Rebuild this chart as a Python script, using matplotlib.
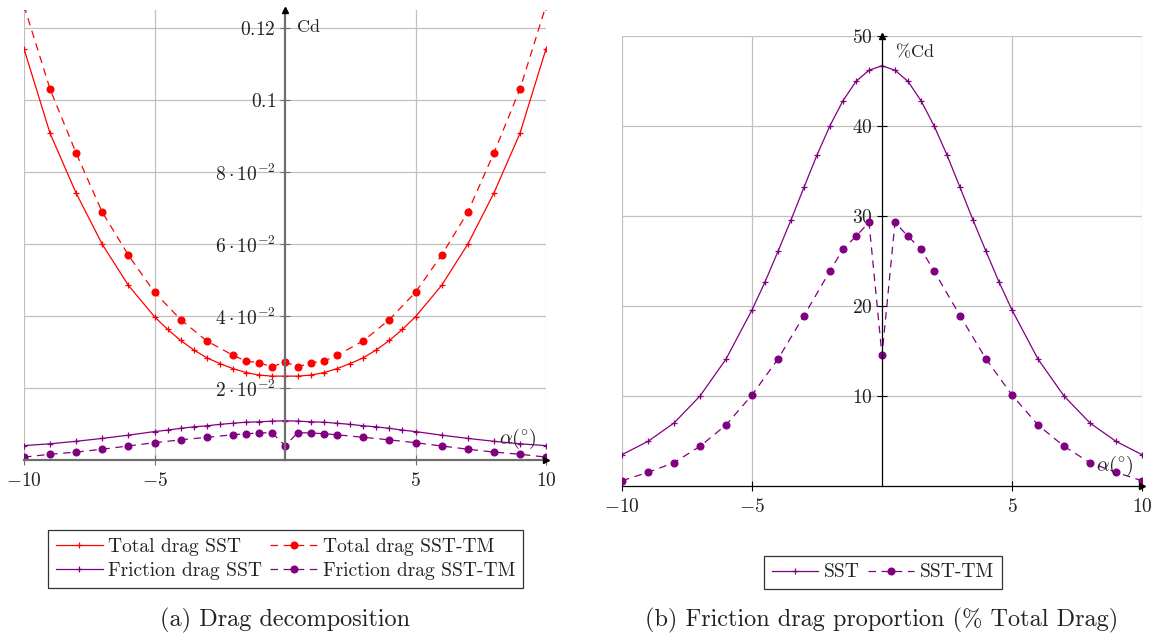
import matplotlib
matplotlib.use("Agg")
import matplotlib.pyplot as plt

plt.rcParams['font.family'] = ['cmr10', 'DejaVu Serif']
plt.rcParams['mathtext.fontset'] = 'cm'
plt.rcParams['axes.unicode_minus'] = False

RED = '#ff0000'
PURPLE = '#800080'

# ---------------- data (a) ----------------
alpha_sst = [-10, -9, -8, -7, -6, -5, -4.5, -4, -3.5, -3, -2.5, -2, -1.5, -1, -0.5,
             0, 0.5, 1, 1.5, 2, 2.5, 3, 3.5, 4, 4.5, 5, 6, 7, 8, 9, 10]
alpha_tm = [-10, -9, -8, -7, -6, -5, -4, -3, -2, -1.5, -1, -0.5,
            0, 0.5, 1, 1.5, 2, 3, 4, 5, 6, 7, 8, 9, 10]

total_sst = [0.1142, 0.0907, 0.0741, 0.0599, 0.0485, 0.0398, 0.0363, 0.0332, 0.0306,
             0.0284, 0.0268, 0.0254, 0.0243, 0.0236, 0.0233,
             0.0233,
             0.0233, 0.0236, 0.0243, 0.0254, 0.0268, 0.0284, 0.0306, 0.0332, 0.0363,
             0.0398, 0.0485, 0.0599, 0.0741, 0.0907, 0.1142]
total_tm = [0.1262, 0.1030, 0.0852, 0.0688, 0.0569, 0.0466, 0.0390, 0.0331, 0.0291,
            0.0275, 0.0270, 0.0259,
            0.0272,
            0.0259, 0.0270, 0.0275, 0.0291, 0.0331, 0.0390, 0.0466, 0.0569, 0.0688,
            0.0852, 0.1030, 0.1262]
friction_sst = [0.0040, 0.0045, 0.0052, 0.0060, 0.0069, 0.0079, 0.0083, 0.0088, 0.0092,
                0.0095, 0.0099, 0.0102, 0.0105, 0.0106, 0.0108,
                0.0109,
                0.0108, 0.0106, 0.0105, 0.0102, 0.0099, 0.0095, 0.0092, 0.0088, 0.0083,
                0.0079, 0.0069, 0.0060, 0.0052, 0.0045, 0.0040]
friction_tm = [0.0008, 0.0016, 0.0022, 0.0030, 0.0039, 0.0048, 0.0056, 0.0063, 0.0070,
               0.0073, 0.0075, 0.0076,
               0.0040,
               0.0076, 0.0075, 0.0073, 0.0070, 0.0063, 0.0056, 0.0048, 0.0039, 0.0030,
               0.0022, 0.0016, 0.0008]

# ---------------- data (b) ----------------
pct_sst = [3.48, 4.96, 7.0, 10.0, 14.1, 19.56, 22.67, 26.07, 29.56, 33.19, 36.78,
           40.04, 42.81, 44.96, 46.19,
           46.7,
           46.19, 44.96, 42.81, 40.04, 36.78, 33.19, 29.56, 26.07, 22.67, 19.56,
           14.1, 10.0, 7.0, 4.96, 3.48]
pct_tm = [0.59, 1.52, 2.59, 4.41, 6.78, 10.11, 14.11, 18.93, 23.89, 26.33, 27.74, 29.30,
          14.52,
          29.30, 27.74, 26.33, 23.89, 18.93, 14.11, 10.11, 6.78, 4.41, 2.59, 1.52, 0.59]

xticks = [-10, -5, 5, 10]
xticklabels = [r'$-10$', r'$-5$', r'$5$', r'$10$']
yticks_a = [0.02, 0.04, 0.06, 0.08, 0.1, 0.12]
yticklabels_a = [r'$2\cdot10^{-2}$', r'$4\cdot10^{-2}$', r'$6\cdot10^{-2}$',
                 r'$8\cdot10^{-2}$', r'$0.1$', r'$0.12$']
yticks_b = [10, 20, 30, 40, 50]
yticklabels_b = [r'$10$', r'$20$', r'$30$', r'$40$', r'$50$']

W, H = 1157, 639
fig = plt.figure(figsize=(W / 100, H / 100), dpi=100)

TICKFS = 14
LW = 0.9
MS_DOT = 4.8
MS_PLUS = 5
DASH = (0, (6, 4.5))
TXT = '#222222'


def setup_axes(ax, axcolor, axlw):
    ax.spines['left'].set_position(('data', 0))
    ax.spines['bottom'].set_position(('data', 0))
    ax.spines['top'].set_visible(False)
    ax.spines['right'].set_visible(False)
    for s in ('left', 'bottom'):
        ax.spines[s].set_color(axcolor)
        ax.spines[s].set_linewidth(axlw)
        ax.spines[s].set_zorder(5)
    ax.tick_params(axis='both', direction='inout', length=7, width=0.8,
                   colors=axcolor, labelcolor=TXT, labelsize=TICKFS)
    ax.tick_params(axis='y', pad=3)
    ax.tick_params(axis='x', pad=5)
    ax.grid(True, color='#c0c0c0', linewidth=0.9)
    ax.set_axisbelow(True)
    # arrow heads
    ax.plot(1, 0, marker='>', color='black', markersize=5,
            transform=ax.get_yaxis_transform(), clip_on=False, zorder=6)
    ax.plot(0, 1, marker='^', color='black', markersize=5,
            transform=ax.get_xaxis_transform(), clip_on=False, zorder=6)


# ---------------- panel (a) ----------------
axa = fig.add_axes([24 / W, 1 - 460 / H, 522 / W, 450 / H])
axa.set_xlim(-10, 10)
axa.set_ylim(0, 0.125)
setup_axes(axa, '#6e6e6e', 1.6)
axa.set_xticks(xticks)
axa.set_xticklabels(xticklabels)
axa.set_yticks(yticks_a)
axa.set_yticklabels(yticklabels_a)

l1, = axa.plot(alpha_sst, total_sst, color=RED, lw=LW, marker='+', ms=MS_PLUS,
               mew=0.9, label='Total drag SST')
l2, = axa.plot(alpha_tm, total_tm, color=RED, lw=LW, ls=DASH, marker='o',
               ms=MS_DOT, label='Total drag SST-TM')
l3, = axa.plot(alpha_sst, friction_sst, color=PURPLE, lw=LW, marker='+', ms=MS_PLUS,
               mew=0.9, label='Friction drag SST')
l4, = axa.plot(alpha_tm, friction_tm, color=PURPLE, lw=LW, ls=DASH, marker='o',
               ms=MS_DOT, label='Friction drag SST-TM')

axa.text(0.523, 0.962, 'Cd', transform=axa.transAxes, fontsize=13,
         ha='left', va='center', color=TXT)
axa.text(0.946, 0.046, r'$\alpha(^{\circ})$', transform=axa.transAxes,
         fontsize=14.5, ha='center', va='center', color=TXT)

# ---------------- panel (b) ----------------
axb = fig.add_axes([622 / W, 1 - 486 / H, 520 / W, 450 / H])
axb.set_xlim(-10, 10)
axb.set_ylim(0, 50)
setup_axes(axb, 'black', 0.9)
axb.set_xticks(xticks)
axb.set_xticklabels(xticklabels)
axb.set_yticks(yticks_b)
axb.set_yticklabels(yticklabels_b)

m1, = axb.plot(alpha_sst, pct_sst, color=PURPLE, lw=LW, marker='+', ms=MS_PLUS,
               mew=0.9, label='SST')
m2, = axb.plot(alpha_tm, pct_tm, color=PURPLE, lw=LW, ls=DASH, marker='o',
               ms=MS_DOT, label='SST-TM')

axb.text(0.527, 0.962, '%Cd', transform=axb.transAxes, fontsize=13,
         ha='left', va='center', color=TXT)
axb.text(0.948, 0.044, r'$\alpha(^{\circ})$', transform=axb.transAxes,
         fontsize=14.5, ha='center', va='center', color=TXT)

# ---------------- legends ----------------
leg_kw = dict(frameon=True, fancybox=False, edgecolor='black', fontsize=14,
              handlelength=2.4, handletextpad=0.3, borderpad=0.4,
              labelspacing=0.3, numpoints=1, labelcolor=TXT)
la = fig.legend([l1, l3, l2, l4], [h.get_label() for h in (l1, l3, l2, l4)],
                loc='center', bbox_to_anchor=(285.5 / W, 1 - 559 / H), ncol=2,
                columnspacing=0.4, **leg_kw)
la.get_frame().set_linewidth(0.9)
lb = fig.legend([m1, m2], ['SST', 'SST-TM'], loc='center',
                bbox_to_anchor=(883 / W, 1 - 572.5 / H), ncol=2,
                columnspacing=0.4, **leg_kw)
lb.get_frame().set_linewidth(0.9)

# ---------------- captions ----------------
fig.text(285 / W, 1 - 620 / H, '(a) Drag decomposition', fontsize=17.5,
         ha='center', va='center', color=TXT)
fig.text(882 / W, 1 - 620 / H, '(b) Friction drag proportion (% Total Drag)',
         fontsize=17.5, ha='center', va='center', color=TXT)

fig.savefig('out.png', dpi=100)
